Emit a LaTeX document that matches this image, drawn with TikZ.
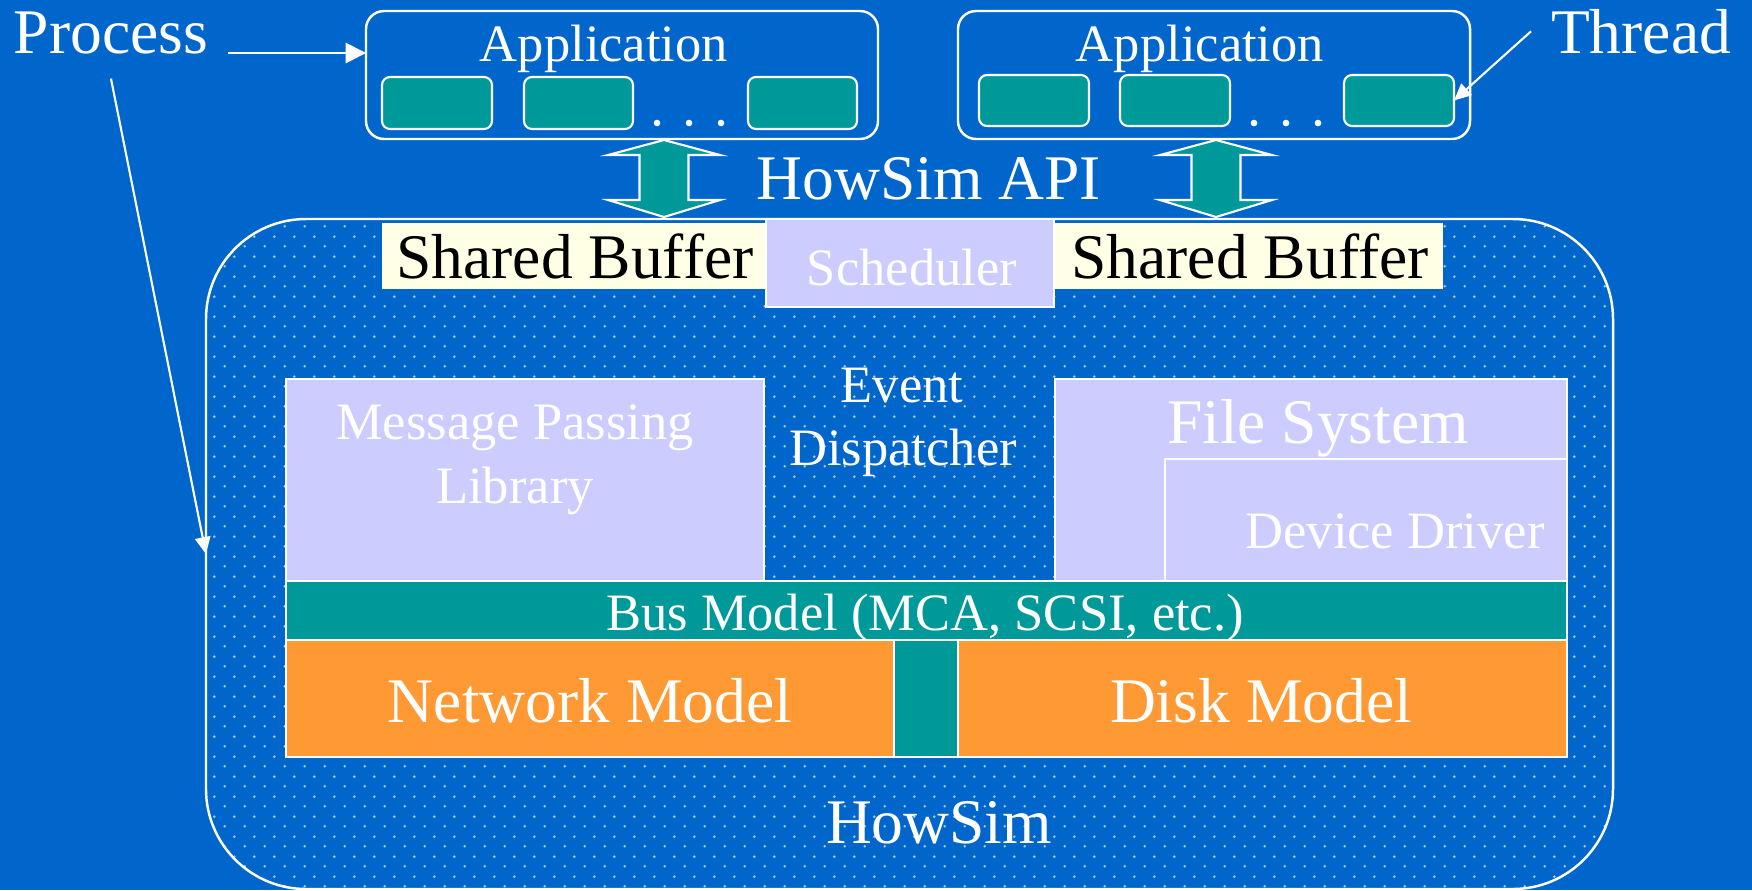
\documentclass[tikz,border=0pt]{standalone}
\usepackage{fontspec}
\setmainfont{Liberation Serif}
\usetikzlibrary{arrows.meta,calc,patterns.meta}

\definecolor{bgblue}{RGB}{0,102,204}
\definecolor{hsteal}{RGB}{0,153,153}
\definecolor{lav}{RGB}{204,204,255}
\definecolor{orng}{RGB}{255,153,51}
\definecolor{cream}{RGB}{255,255,230}
\definecolor{dotc}{RGB}{165,200,245}

% staggered dot grid used inside the simulator frame
\pgfdeclarepattern{
  name=hsdots,
  type=uncolored,
  bottom left={\pgfpoint{0pt}{0pt}},
  top right={\pgfpoint{5.69pt}{5.69pt}},
  tile size={\pgfpoint{5.69pt}{5.69pt}},
  code={
    \pgfpathcircle{\pgfpoint{1.4225pt}{1.4225pt}}{0.42pt}
    \pgfpathcircle{\pgfpoint{4.2675pt}{4.2675pt}}{0.42pt}
    \pgfusepath{fill}
  }
}

\newcommand{\bigfont}{\fontsize{18.07pt}{21pt}\selectfont}
\newcommand{\smallfont}{\fontsize{14.94pt}{18pt}\selectfont}

% box node from its corner coordinates: name, x1, y1, x2, y2, style
\newcommand{\pxbox}[6]{%
  \node[#6, inner sep=0pt, outer sep=0pt,
        minimum width={(#4-#2)*0.01cm}, minimum height={(#5-#3)*0.01cm}]
        (#1) at ({(#2+#4)/2},{(#3+#5)/2}) {};}

% two-headed API arrow between a top and a bottom coordinate
\newcommand{\apiarrow}[2]{%
  \draw[apiarrow] (#1) -- ++(56,15) -- ++(-31.5,0) -- ($(#2)+(24.5,-17)$)
    -- ++(31.5,0) -- (#2) -- ++(-56,-17) -- ++(31.5,0)
    -- ($(#1)+(-24.5,15)$) -- ++(-31.5,0) -- cycle;}

\begin{document}
\begin{tikzpicture}[x=0.01cm,y=-0.01cm,
  lbl/.style={text=white, inner sep=0pt, outer sep=0pt, anchor=base},
  blk/.style={lbl, text=black},
  big/.style={font=\bigfont},
  small/.style={font=\smallfont},
  bigbox/.style={draw=white, line width=0.7pt, rounded corners=1cm,
                 pattern=hsdots, pattern color=dotc},
  appbox/.style={draw=white, line width=0.7pt, rounded corners=0.18cm},
  thrbox/.style={draw=white, fill=hsteal, line width=0.6pt, rounded corners=0.08cm},
  sbuf/.style={fill=cream},
  lavbox/.style={draw=white, fill=lav, line width=0.6pt},
  tealbox/.style={draw=white, fill=hsteal, line width=0.6pt},
  orbox/.style={draw=white, fill=orng, line width=0.6pt},
  apiarrow/.style={draw=white, fill=hsteal, line width=0.6pt, line join=miter},
  pointer/.style={draw=white, line width=0.6pt,
                  -{Triangle[length=4.8pt,width=4.4pt]}},
  bigpointer/.style={pointer, -{Triangle[length=5.8pt,width=5.8pt]}}]

\useasboundingbox (0,0) rectangle (1752,890);
\fill[bgblue] (0,0) rectangle (1752,890);

% simulator frame
\pxbox{howsim}{206}{219}{1613}{889}{bigbox}

% shared buffers and scheduler
\pxbox{sb1}{382}{223}{766}{289}{sbuf}
\pxbox{sb2}{1055}{223}{1443}{289}{sbuf}
\pxbox{sched}{766}{219}{1054}{307}{lavbox}

% inner layers
\pxbox{mpl}{286}{379}{764}{581}{lavbox}
\pxbox{fs}{1055}{379}{1567}{581}{lavbox}
\pxbox{dd}{1165}{459}{1567}{581}{lavbox}
\pxbox{bus}{286}{581}{1567}{640}{tealbox}
\pxbox{net}{286}{640}{894}{757}{orbox}
\pxbox{link}{894}{640}{958}{757}{tealbox}
\pxbox{disk}{958}{640}{1567}{757}{orbox}

% applications with their threads
\pxbox{app1}{366}{11}{878}{139}{appbox}
\pxbox{app2}{958}{11}{1470}{139}{appbox}
\pxbox{t11}{382}{77}{492}{129}{thrbox}
\pxbox{t12}{524}{77}{633}{129}{thrbox}
\pxbox{t13}{748}{77}{857}{129}{thrbox}
\pxbox{t21}{979}{75}{1089}{126}{thrbox}
\pxbox{t22}{1120}{75}{1230}{126}{thrbox}
\pxbox{t23}{1344}{75}{1454}{126}{thrbox}
\foreach \dx in {657,689,721} \fill[white] (\dx,123) circle (0.033cm);
\foreach \dx in {1254,1286,1318} \fill[white] (\dx,123) circle (0.033cm);

% API arrows
\coordinate (a1t) at (664,140);
\coordinate (a1b) at (664,217);
\coordinate (a2t) at (1216,140);
\coordinate (a2b) at (1216,217);
\apiarrow{a1t}{a1b}
\apiarrow{a2t}{a2b}

% labels
\node[lbl, big] (process) at (111,53) {Process};
\node[lbl, big] (thread) at (1641,53) {Thread};
\node[lbl, small] (appl1) at (604,61) {Application};
\node[lbl, small] (appl2) at (1200,61) {Application};
\node[lbl, big] (api) at (929,199) {HowSim API};
\node[blk, big] (sbt1) at (575,278) {Shared Buffer};
\node[blk, big] (sbt2) at (1250,278) {Shared Buffer};
\node[lbl, small] (schedt) at (912,285) {Scheduler};
\node[lbl, small] (mplt1) at (515,439) {Message Passing};
\node[lbl, small] (mplt2) at (515,503) {Library};
\node[lbl, small] (evt1) at (902,402) {Event};
\node[lbl, small] (evt2) at (903,465) {Dispatcher};
\node[lbl, big] (fst) at (1318,443) {File System};
\node[lbl, small] (ddt) at (1395,548) {Device Driver};
\node[lbl, small] (bust) at (925,630) {Bus Model (MCA, SCSI, etc.)};
\node[lbl, big] (nett) at (590,722) {Network Model};
\node[lbl, big] (diskt) at (1261,722) {Disk Model};
\node[lbl, big] (howsimt) at (939,843) {HowSim};

% pointers
\draw[bigpointer] ([xshift=0.2cm]process.base east) -- (app1.west |- process.base);
\draw[pointer] ([yshift=-0.25cm]process.south) -- (howsim.west);
\draw[pointer] ([xshift=-0.2cm]thread.west) -- (t23.east);

\end{tikzpicture}
\end{document}
